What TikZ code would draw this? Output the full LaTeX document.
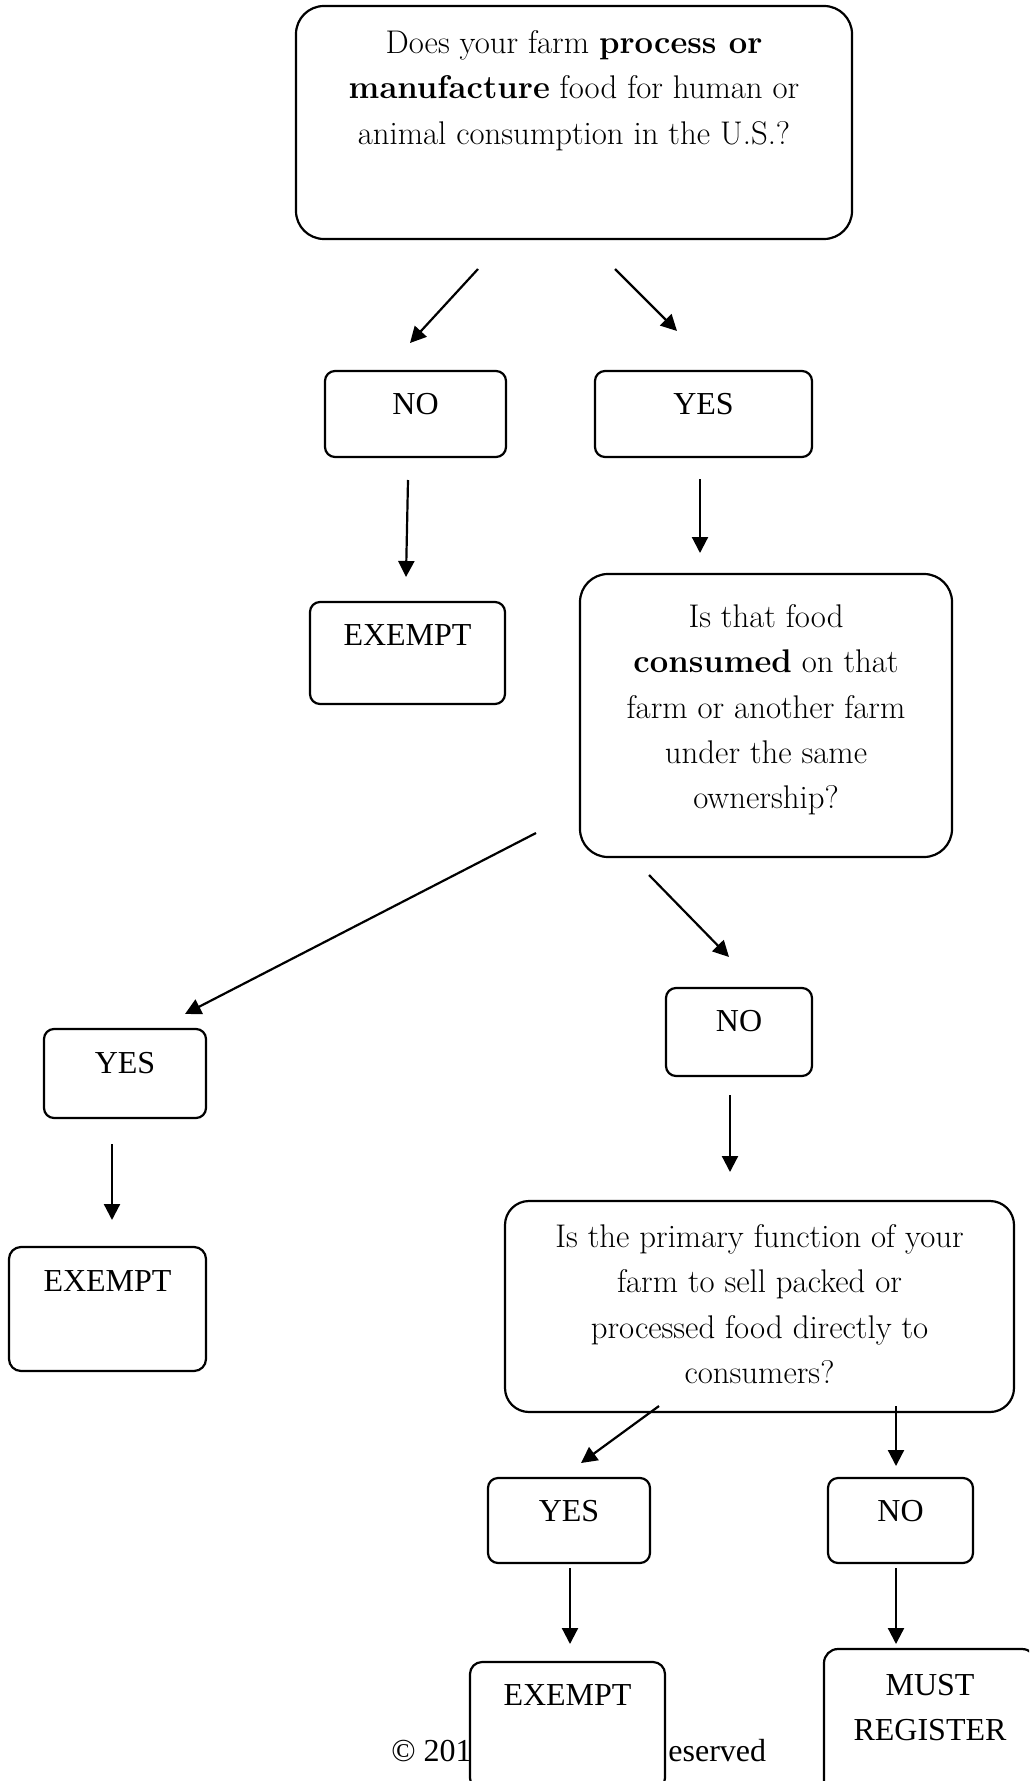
\documentclass[tikz,border=0pt]{standalone}
\usepackage{fontspec}
\newfontfamily\answerfont{Liberation Serif}
\usetikzlibrary{positioning,arrows.meta}

\tikzset{
  flowbox/.style={draw, line width=1.1pt, fill=white, rounded corners=#1},
  flowbox/.default=5pt,
  question/.style={inner sep=0pt, align=center, font=\fontsize{16.4}{22.7}\selectfont},
  answer/.style={inner sep=0pt, align=center, font=\answerfont\fontsize{16}{22.5}\selectfont},
  flowarrow/.style={line width=1.1pt, -{Triangle[length=8pt,width=8pt]}}
}

\begin{document}
\begin{tikzpicture}[x=0.5pt, y=-0.5pt]
  \useasboundingbox (0,0) rectangle (1029,1781);
  \clip (0,0) rectangle (1029,1781);

  % footer, partly covered by the last box
  \node[answer, anchor=base east] (copyl) at (472,1761) {© 201};
  \node[answer, anchor=base west] (copyr) at (668,1761) {eserved};

  % questions
  \node[flowbox=14pt, minimum width=278pt, minimum height=116.5pt] (q1) at (574,122.5) {};
  \node[question, below=12.5pt of q1.north] (q1t)
    {Does your farm \textbf{process or}\\ \textbf{manufacture} food for human or\\ animal consumption in the U.S.?};

  \node[flowbox=14pt, minimum width=186pt, minimum height=141.5pt] (q2) at (766,715.5) {};
  \node[question, below=15.5pt of q2.north] (q2t)
    {Is that food\\ \textbf{consumed} on that\\ farm or another farm\\ under the same\\ ownership?};

  \node[flowbox=12pt, minimum width=254.5pt, minimum height=105.5pt] (q3) at (759.5,1306.5) {};
  \node[question, below=12pt of q3.north] (q3t)
    {Is the primary function of your\\ farm to sell packed or\\ processed food directly to\\ consumers?};

  % answers
  \node[flowbox, minimum width=90.5pt, minimum height=43pt] (no1) at (415.5,414) {};
  \node[answer, below=11.5pt of no1.north] (no1t) {NO};
  \node[flowbox, minimum width=108.5pt, minimum height=43pt] (yes1) at (703.5,414) {};
  \node[answer, below=11.5pt of yes1.north] (yes1t) {YES};
  \node[flowbox, minimum width=97.5pt, minimum height=51pt] (ex1) at (407.5,653) {};
  \node[answer, below=11.5pt of ex1.north] (ex1t) {EXEMPT};

  \node[flowbox, minimum width=81pt, minimum height=44.5pt] (yes2) at (125,1073.5) {};
  \node[answer, below=12pt of yes2.north] (yes2t) {YES};
  \node[flowbox, minimum width=73pt, minimum height=44pt] (no2) at (739,1032) {};
  \node[answer, below=11.5pt of no2.north] (no2t) {NO};
  \node[flowbox=6pt, minimum width=98.5pt, minimum height=62pt] (ex2) at (107.5,1309) {};
  \node[answer, below=12pt of ex2.north] (ex2t) {EXEMPT};

  \node[flowbox, minimum width=81pt, minimum height=42.5pt] (yes3) at (569,1520.5) {};
  \node[answer, below=11.5pt of yes3.north] (yes3t) {YES};
  \node[flowbox, minimum width=72.5pt, minimum height=42.5pt] (no3) at (900.5,1520.5) {};
  \node[answer, below=11.5pt of no3.north] (no3t) {NO};
  \node[flowbox=6pt, minimum width=97.5pt, minimum height=64pt] (ex3) at (567.5,1726) {};
  \node[answer, below=11.5pt of ex3.north] (ex3t) {EXEMPT};
  \node[flowbox=7pt, minimum width=106pt, minimum height=73pt] (must) at (930,1722) {};
  \node[answer, below=13pt of must.north] (mustt) {MUST\\ REGISTER};

  % arrow ends
  \coordinate (a1s) at (478,269);   \coordinate (a1e) at (410,343);
  \coordinate (a2s) at (615,269);   \coordinate (a2e) at (677,331);
  \coordinate (a3s) at (408,480);   \coordinate (a3e) at (406,577);
  \coordinate (a4s) at (700,479);   \coordinate (a4e) at (700,553);
  \coordinate (a5s) at (536,833);   \coordinate (a5e) at (185,1014);
  \coordinate (a6s) at (649,875);   \coordinate (a6e) at (729,957);
  \coordinate (a7s) at (112,1144);  \coordinate (a7e) at (112,1220);
  \coordinate (a8s) at (730,1095);  \coordinate (a8e) at (730,1172);
  \coordinate (a9s) at (659,1406);  \coordinate (a9e) at (581,1463);
  \coordinate (a10s) at (896,1406); \coordinate (a10e) at (896,1466);
  \coordinate (a11s) at (570,1568); \coordinate (a11e) at (570,1644);
  \coordinate (a12s) at (896,1568); \coordinate (a12e) at (896,1644);

  \foreach \i in {1,...,12}
    \draw[flowarrow] (a\i s) -- (a\i e);
\end{tikzpicture}
\end{document}
